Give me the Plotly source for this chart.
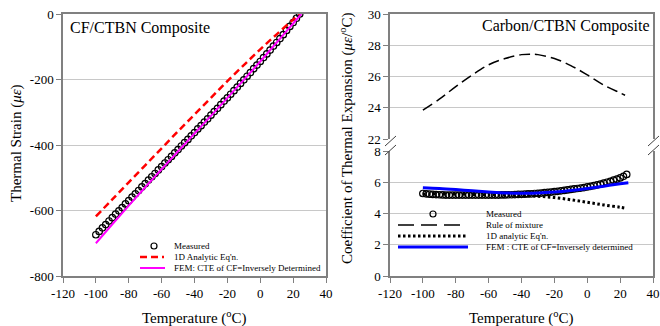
import plotly.graph_objects as go

W, H = 660, 326

# ---------------- data ----------------
meas_T = [-100, -98, -96, -94, -92, -90, -88, -86, -84, -82, -80, -78, -76, -74, -72, -70,
          -68, -66, -64, -62, -60, -58, -56, -54, -52, -50, -48, -46, -44, -42, -40, -38,
          -36, -34, -32, -30, -28, -26, -24, -22, -20, -18, -16, -14, -12, -10, -8, -6,
          -4, -2, 0, 2, 4, 6, 8, 10, 12, 14, 16, 18, 20, 22, 24]
meas_strain = [-674, -664, -653, -643, -632, -622, -611, -601, -591, -580, -570, -559, -549,
               -539, -528, -518, -507, -497, -487, -476, -466, -455, -445, -435, -424, -414,
               -403, -393, -383, -372, -362, -351, -341, -330, -320, -309, -298, -288, -277,
               -266, -256, -245, -234, -223, -212, -201, -190, -179, -167, -156, -145, -133,
               -122, -110, -98, -87, -75, -63, -50, -38, -26, -13, 0]
meas_cte = [5.28, 5.26, 5.24, 5.22, 5.21, 5.20, 5.19, 5.18, 5.18, 5.18, 5.18, 5.18, 5.18,
            5.18, 5.18, 5.18, 5.18, 5.18, 5.18, 5.18, 5.18, 5.18, 5.18, 5.18, 5.19, 5.19,
            5.20, 5.20, 5.21, 5.22, 5.23, 5.24, 5.25, 5.26, 5.28, 5.29, 5.31, 5.33, 5.35,
            5.37, 5.40, 5.42, 5.45, 5.48, 5.51, 5.54, 5.57, 5.60, 5.63, 5.66, 5.70, 5.74,
            5.78, 5.83, 5.88, 5.94, 6.00, 6.06, 6.13, 6.20, 6.28, 6.38, 6.50]

ana_T = [-100, -90, -80, -70, -60, -50, -40, -30, -20, -10, 0, 10, 20, 24]
ana_strain = [-618, -566, -514, -462, -410, -358, -307, -256, -205, -156, -108, -62, -17, 0]
ana_cte = [5.25, 5.24, 5.23, 5.22, 5.20, 5.18, 5.15, 5.10, 5.02, 4.88, 4.72, 4.55, 4.40, 4.33]

fem_T = [-100, -90, -80, -70, -60, -50, -40, -30, -20, -10, 0, 10, 20, 25]
fem_strain = [-700, -642, -585, -529, -474, -419, -365, -311, -256, -201, -145, -87, -29, 0]
fem_cte = [5.65, 5.60, 5.53, 5.45, 5.38, 5.32, 5.30, 5.31, 5.37, 5.47, 5.60, 5.75, 5.90, 5.97]

rom_T = [-100, -90, -80, -70, -60, -50, -40, -35, -30, -20, -10, 0, 10, 20, 23]
rom_cte = [23.85, 24.55, 25.35, 26.1, 26.75, 27.15, 27.4, 27.43, 27.4, 27.15, 26.7, 26.1,
           25.45, 24.95, 24.8]

x_ticks = [-120, -100, -80, -60, -40, -20, 0, 20, 40]
x_ticktext = ["-120", "-100", "-80", "-60", "-40", "-20", "0", "20", "40"]
strain_ticks = [-800, -600, -400, -200, 0]
strain_ticktext = ["-800", "-600", "-400", "-200", "0"]
upper_ticks = [22, 24, 26, 28, 30]
lower_ticks = [0, 2, 4, 6, 8]

# ---------------- helpers ----------------
def px(x):
    return x / W

def py(y):
    return 1 - y / H

FONT = "Liberation Serif, Times New Roman, serif"
AXC = "#808080"
GRID = "#c8c8c8"

fig = go.Figure()

mk = dict(symbol="circle-open", size=6.5, color="black", line=dict(width=1.2, color="black"))

# left panel
fig.add_trace(go.Scatter(x=meas_T, y=meas_strain, mode="markers", xaxis="x", yaxis="y",
                         marker=mk, showlegend=False))
fig.add_trace(go.Scatter(x=ana_T, y=ana_strain, mode="lines", xaxis="x", yaxis="y",
                         line=dict(color="#ff0000", width=2.5, dash="7px,4px", shape="spline"),
                         showlegend=False))
fig.add_trace(go.Scatter(x=fem_T, y=fem_strain, mode="lines", xaxis="x", yaxis="y",
                         line=dict(color="#ff00ff", width=2, shape="spline"), showlegend=False))

# right upper panel
fig.add_trace(go.Scatter(x=rom_T, y=rom_cte, mode="lines", xaxis="x3", yaxis="y2",
                         line=dict(color="black", width=1.5, dash="11px,5px", shape="spline"),
                         showlegend=False))
# right lower panel
fig.add_trace(go.Scatter(x=meas_T, y=meas_cte, mode="markers", xaxis="x2", yaxis="y3",
                         marker=mk, showlegend=False))
fig.add_trace(go.Scatter(x=ana_T, y=ana_cte, mode="lines", xaxis="x2", yaxis="y3",
                         line=dict(color="black", width=3, dash="2.5px,2.5px", shape="spline"),
                         showlegend=False))
fig.add_trace(go.Scatter(x=fem_T, y=fem_cte, mode="lines", xaxis="x2", yaxis="y3",
                         line=dict(color="#0000ff", width=3, shape="spline"), showlegend=False))

tickfont = dict(family=FONT, size=13, color="black")
common_x = dict(range=[-120, 40], tickvals=x_ticks, ticktext=x_ticktext, tickfont=tickfont,
                showgrid=False, zeroline=False, showline=True, linecolor=AXC, linewidth=1.5,
                ticks="outside", ticklen=5, tickcolor=AXC, tickwidth=1.2, automargin=False)
common_y = dict(tickfont=tickfont, showgrid=True, gridcolor=GRID, gridwidth=1, zeroline=False,
                showline=True, linecolor=AXC, linewidth=1.5, mirror=True,
                ticks="outside", ticklen=5, tickcolor=AXC, tickwidth=1.2, automargin=False)

L0, L1 = px(63), px(326)
R0, R1 = px(390), px(653)

fig.update_layout(
    width=W, height=H, margin=dict(l=0, r=0, t=0, b=0, pad=0, autoexpand=False),
    paper_bgcolor="white", plot_bgcolor="white", showlegend=False,
    font=dict(family=FONT, color="black"),
    xaxis=dict(domain=[L0, L1], anchor="y", mirror=True, **common_x),
    yaxis=dict(domain=[py(276), py(14)], anchor="x", range=[-800, 0],
               tickvals=strain_ticks, ticktext=strain_ticktext, **common_y),
    xaxis2=dict(domain=[R0, R1], anchor="y3", mirror=False, **common_x),
    xaxis3=dict(domain=[R0, R1], anchor="y2", side="top", range=[-120, 40],
                showticklabels=False, ticks="", showgrid=False, zeroline=False,
                showline=True, linecolor=AXC, linewidth=1.5, automargin=False),
    yaxis2=dict(domain=[py(139), py(14)], anchor="x3", range=[22, 30],
                tickvals=upper_ticks, **common_y),
    yaxis3=dict(domain=[py(276), py(151)], anchor="x2", range=[0, 8],
                tickvals=lower_ticks, **common_y),
)

ann = []
ann.append(dict(text="CF/CTBN Composite", x=px(68), y=py(28), xanchor="left", yanchor="middle",
                font=dict(size=16)))
ann.append(dict(text="Carbon/CTBN Composite", x=px(652), y=py(26), xanchor="right",
                yanchor="middle", font=dict(size=16)))
ann.append(dict(text="Temperature (<sup>o</sup>C)", x=px(194.5), y=py(317), xanchor="center",
                yanchor="middle", font=dict(size=15)))
ann.append(dict(text="Temperature (<sup>o</sup>C)", x=px(521.5), y=py(317), xanchor="center",
                yanchor="middle", font=dict(size=15)))
ann.append(dict(text="Thermal Strain (<i>με</i>)", x=px(16), y=py(143), textangle=-90,
                xanchor="center", yanchor="middle", font=dict(size=15)))
ann.append(dict(text="Coefficient of Thermal Expansion (<i>με</i>/<sup>o</sup>C)", x=px(346),
                y=py(139), textangle=-90, xanchor="center", yanchor="middle",
                font=dict(size=15)))

shapes = []
# left legend
lg_font = dict(size=9)
shapes.append(dict(type="circle", xref="paper", yref="paper", xsizemode="pixel",
                   ysizemode="pixel", xanchor=px(154), yanchor=py(246), x0=-3, x1=3, y0=-3,
                   y1=3, line=dict(color="black", width=1.2)))
ann.append(dict(text="Measured", x=px(172), y=py(246), xanchor="left", yanchor="middle",
                font=lg_font))
shapes.append(dict(type="line", xref="paper", yref="paper", x0=px(140), x1=px(164),
                   y0=py(257), y1=py(257), line=dict(color="#ff0000", width=2.5, dash="7px,4px")))
ann.append(dict(text="1D Analytic Eq'n.", x=px(172), y=py(257), xanchor="left",
                yanchor="middle", font=lg_font))
shapes.append(dict(type="line", xref="paper", yref="paper", x0=px(140), x1=px(165),
                   y0=py(268), y1=py(268), line=dict(color="#ff00ff", width=2)))
ann.append(dict(text="FEM: CTE of CF=Inversely Determined", x=px(172), y=py(268),
                xanchor="left", yanchor="middle", font=lg_font))

# right legend
shapes.append(dict(type="circle", xref="paper", yref="paper", xsizemode="pixel",
                   ysizemode="pixel", xanchor=px(433), yanchor=py(214), x0=-3, x1=3, y0=-3,
                   y1=3, line=dict(color="black", width=1.2)))
ann.append(dict(text="Measured", x=px(484), y=py(214), xanchor="left", yanchor="middle",
                font=lg_font))
shapes.append(dict(type="line", xref="paper", yref="paper", x0=px(398), x1=px(462),
                   y0=py(225), y1=py(225), line=dict(color="black", width=1.5, dash="16px,7px")))
ann.append(dict(text="Rule of mixture", x=px(484), y=py(225), xanchor="left", yanchor="middle",
                font=lg_font))
shapes.append(dict(type="line", xref="paper", yref="paper", x0=px(398), x1=px(468),
                   y0=py(236), y1=py(236), line=dict(color="black", width=3, dash="2.5px,2.5px")))
ann.append(dict(text="1D analytic Eq'n.", x=px(484), y=py(236), xanchor="left",
                yanchor="middle", font=lg_font))
shapes.append(dict(type="line", xref="paper", yref="paper", x0=px(398), x1=px(468),
                   y0=py(247), y1=py(247), line=dict(color="#0000ff", width=3)))
ann.append(dict(text="FEM : CTE of CF=Inversely determined", x=px(484), y=py(247),
                xanchor="left", yanchor="middle", font=lg_font))

# axis break marks
for bx in (390, 653):
    for by in (141, 150):
        shapes.append(dict(type="line", xref="paper", yref="paper", x0=px(bx - 5),
                           y0=py(by + 5), x1=px(bx + 6), y1=py(by - 5),
                           line=dict(color="#404040", width=1)))

for a in ann:
    a.update(xref="paper", yref="paper", showarrow=False)
fig.update_layout(annotations=ann, shapes=shapes)

fig.write_html("out.html", config={"displayModeBar": False},
               post_script="document.body.style.margin='0';")
